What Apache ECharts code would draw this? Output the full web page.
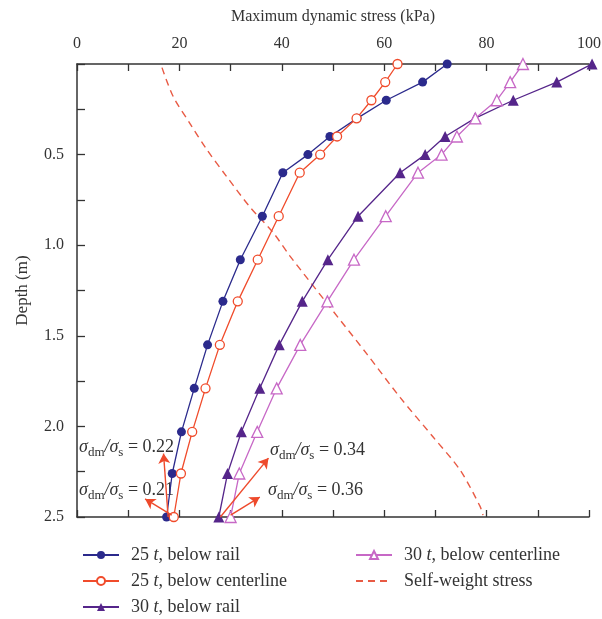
<!DOCTYPE html>
<html>
<head>
<meta charset="utf-8">
<script src="https://cdn.jsdelivr.net/npm/echarts@6/dist/echarts.min.js"></script>
<style>
  html, body { margin: 0; padding: 0; background: #fff; }
  #chart { width: 602px; height: 619px; }
</style>
</head>
<body>
<div id="chart"></div>
<script>
// depth of each measuring point (m)
const depth = [0, 0.1, 0.2, 0.3, 0.4, 0.5, 0.6, 0.84, 1.08, 1.31, 1.55, 1.79, 2.03, 2.26, 2.5];
// maximum dynamic stress (kPa)
const rail25 = [72.3, 67.5, 60.4, 54.7, 49.4, 45.1, 40.2, 36.2, 31.9, 28.5, 25.5, 22.9, 20.4, 18.6, 17.5];
const center25 = [62.6, 60.2, 57.5, 54.6, 50.8, 47.5, 43.5, 39.4, 35.3, 31.4, 27.9, 25.1, 22.5, 20.3, 18.9];
const rail30 = [100.6, 93.7, 85.2, 77.7, 71.9, 68.0, 63.1, 54.9, 49.0, 44.0, 39.5, 35.7, 32.1, 29.4, 27.7];
const center30 = [87.1, 84.6, 82.0, 77.8, 74.2, 71.2, 66.6, 60.3, 54.1, 48.9, 43.6, 39.0, 35.2, 31.7, 30.0];
// self-weight stress curve
const swStress = [16.6, 18.8, 22.1, 25.3, 29.2, 33.8, 38.3, 41.6, 48.8, 56.6, 63.1, 69.6, 74.8, 78.7, 79.3];
const swDepth = [0.02, 0.18, 0.33, 0.47, 0.62, 0.79, 0.93, 1.06, 1.32, 1.60, 1.84, 2.06, 2.24, 2.44, 2.49];
// ratio annotations: [from stress, from depth, to stress, to depth]
const arrowsLeft = [[17.8, 2.5, 16.9, 2.15], [18.5, 2.49, 13.3, 2.40]];
const arrowsRight = [[28.0, 2.5, 37.4, 2.175], [30.0, 2.49, 35.7, 2.39]];
const ratioLabels = ['0.22', '0.21', '0.34', '0.36'];

const serif = '"Liberation Serif", "DejaVu Serif", serif';
const arrowColor = '#ee4a2c';
const txt = '#333';

const pairs = (xs, ys) => xs.map((v, i) => [v, ys[i]]);
const arrowLines = list => list.map(a => [{coord: [a[0], a[1]]}, {coord: [a[2], a[3]]}]);

const myChart = echarts.init(document.getElementById('chart'));

const tickFmt = v => (v % 20 === 0 ? String(v) : '');
const depthFmt = v => {
  const r = Math.round(v * 2) / 2;
  return (Math.abs(r - v) < 1e-6 && v > 0) ? v.toFixed(1) : '';
};

const axisLine = {lineStyle: {color: '#333', width: 1.5}};
const axisTick = len => ({inside: true, length: len, lineStyle: {color: '#333', width: 1.3}});

const ratioText = (left, top, val) => ({
  type: 'text',
  left: left,
  top: top,
  style: {
    text: '{s|σ}{sub|dm}{s|/σ}{sub|s}{n| = ' + val + '}',
    fill: txt,
    rich: {
      s: {fontFamily: serif, fontSize: 18, fontStyle: 'italic', fill: txt, verticalAlign: 'middle', lineHeight: 24},
      sub: {fontFamily: serif, fontSize: 13, fill: txt, verticalAlign: 'bottom', lineHeight: 24},
      n: {fontFamily: serif, fontSize: 18, fill: txt, verticalAlign: 'middle', lineHeight: 24}
    }
  }
});

// one legend block per entry, so rows and columns sit where the figure has them
const legendRich = {
  a: {fontFamily: serif, fontSize: 18, color: txt},
  i: {fontFamily: serif, fontSize: 18, fontStyle: 'italic', color: txt}
};
const legendItem = (name, left, top) => ({
  left: left, top: top, itemWidth: 36, itemHeight: 10,
  data: name === 'Self-weight stress' ? [{name: name, itemStyle: {opacity: 0}}] : [name],
  formatter: n => n.charAt(2) === 't'
    ? '{a|' + n.slice(0, 2) + '}{i| t}{a|' + n.slice(3) + '}'
    : '{a|' + n + '}',
  textStyle: {fontFamily: serif, fontSize: 18, color: txt, padding: [0, 0, 0, 7], rich: legendRich}
});

const option = {
  animation: false,
  grid: {left: 77, top: 64, right: 13, bottom: 102, outerBoundsMode: 'none'},
  xAxis: [
    {
      type: 'value', position: 'top', min: 0, max: 100, interval: 10,
      name: 'Maximum dynamic stress (kPa)', nameLocation: 'middle', nameGap: 39,
      nameTextStyle: {fontFamily: serif, fontSize: 16, color: txt},
      axisLine: axisLine,
      axisTick: axisTick(7),
      axisLabel: {formatter: tickFmt, fontFamily: serif, fontSize: 16, color: txt, margin: 12, showMaxLabel: true},
      splitLine: {show: false}
    },
    {
      type: 'value', position: 'bottom', min: 0, max: 100, interval: 10,
      axisLine: axisLine,
      axisTick: axisTick(7),
      axisLabel: {show: false},
      splitLine: {show: false}
    }
  ],
  yAxis: {
    type: 'value', inverse: true, min: 0, max: 2.5, interval: 0.25,
    name: 'Depth (m)', nameLocation: 'middle', nameGap: 46,
    nameTextStyle: {fontFamily: serif, fontSize: 17, color: txt},
    axisLine: axisLine,
    axisTick: axisTick(8),
    axisLabel: {formatter: depthFmt, fontFamily: serif, fontSize: 16, color: txt, margin: 13},
    splitLine: {show: false}
  },
  legend: [
    legendItem('25t, below rail', 77, 541),
    legendItem('25t, below centerline', 77, 567),
    legendItem('30t, below rail', 77, 593),
    legendItem('30t, below centerline', 350, 541),
    legendItem('Self-weight stress', 350, 567)
  ],
  graphic: [
    ratioText(79, 438, ratioLabels[0]),
    ratioText(79, 481, ratioLabels[1]),
    ratioText(270, 441, ratioLabels[2]),
    ratioText(268, 481, ratioLabels[3])
  ],
  series: [
    {
      name: '25t, below rail', type: 'line', data: pairs(rail25, depth),
      symbol: 'circle', symbolSize: 9, clip: false,
      itemStyle: {color: '#2b2a8c'}, lineStyle: {color: '#2b2a8c', width: 1.3},
      markLine: {
        silent: true, symbol: ['none', 'arrow'], symbolSize: [9, 10],
        label: {show: false},
        lineStyle: {color: arrowColor, type: 'solid', width: 1.4},
        data: arrowLines(arrowsLeft)
      },
      z: 3
    },
    {
      name: '25t, below centerline', type: 'line', data: pairs(center25, depth),
      symbol: 'circle', symbolSize: 9, clip: false,
      itemStyle: {color: '#fff', borderColor: '#f04b2b', borderWidth: 1.3},
      lineStyle: {color: '#f04b2b', width: 1.3},
      z: 3
    },
    {
      name: '30t, below rail', type: 'line', data: pairs(rail30, depth),
      symbol: 'triangle', symbolSize: 11, clip: false,
      itemStyle: {color: '#55258a'}, lineStyle: {color: '#55258a', width: 1.3},
      markLine: {
        silent: true, symbol: ['none', 'arrow'], symbolSize: [9, 10],
        label: {show: false},
        lineStyle: {color: arrowColor, type: 'solid', width: 1.4},
        data: arrowLines(arrowsRight)
      },
      z: 3
    },
    {
      name: '30t, below centerline', type: 'line', data: pairs(center30, depth),
      symbol: 'triangle', symbolSize: 11, clip: false,
      itemStyle: {color: '#fff', borderColor: '#c768c6', borderWidth: 1.3},
      lineStyle: {color: '#c768c6', width: 1.3},
      z: 3
    },
    {
      name: 'Self-weight stress', type: 'line', data: pairs(swStress, swDepth),
      symbol: 'none', smooth: 0.3, clip: false,
      itemStyle: {color: '#e85a44'},
      lineStyle: {color: '#e85a44', width: 1.4, type: [7, 5]},
      z: 2
    }
  ]
};

option && myChart.setOption(option);
</script>
</body>
</html>
